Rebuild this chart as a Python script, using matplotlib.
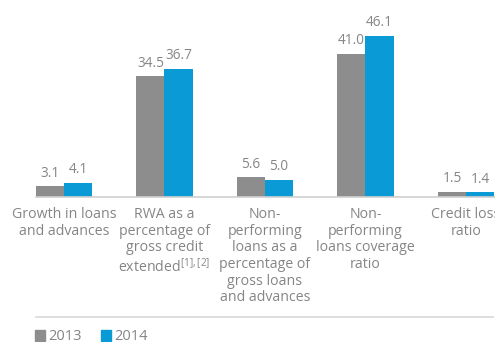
import matplotlib.pyplot as plt
import numpy as np

categories = ['Growth in loans\nand advances',
              'RWA as a\npercentage of\ngross credit\nextended$^{\\mathregular{[1], [2]}}$',
              'Non-\nperforming\nloans as a\npercentage of\ngross loans\nand advances',
              'Non-\nperforming\nloans coverage\nratio',
              'Credit loss\nratio']
vals_2013 = [3.1, 34.5, 5.6, 41.0, 1.5]
vals_2014 = [4.1, 36.7, 5.0, 46.1, 1.4]
years = ['2013', '2014']

gray = '#8d8d8d'
blue = '#0a9ad6'
txt = '#858585'

plt.rcParams['font.family'] = ['Open Sans', 'DejaVu Sans']

fig = plt.figure(figsize=(4.95, 3.42), dpi=100)
ax = fig.add_axes([0, 0.424, 1, 0.576])

x = np.arange(len(categories)) * 1.0025
w = 0.28
b1 = ax.bar(x - w / 2, vals_2013, w, color=gray)
b2 = ax.bar(x + w / 2, vals_2014, w, color=blue)

for bars, vals in ((b1, vals_2013), (b2, vals_2014)):
    for r, v in zip(bars, vals):
        ax.text(r.get_x() + r.get_width() / 2, v + 1.6, f'{v:.1f}',
                ha='center', va='bottom', fontsize=9.8, color=txt)

ax.set_xlim(-0.638, 4.3)
ax.set_ylim(0, 56.4)
ax.axis('off')
ax.plot([x[0] - w, 4.3], [0, 0], color='#d0d0d0', lw=1.2, clip_on=False)

for xi, lab in zip(x, categories):
    ax.text(xi, -2.9, lab, ha='center', va='top', fontsize=10.2,
            color=txt, linespacing=1.15)

# bottom rule and legend
fig.add_artist(plt.Line2D([36 / 495, 493 / 495], [1 - 317 / 342] * 2,
                          color='#d8d8d8', lw=1.2))
leg = fig.legend([plt.Rectangle((0, 0), 1, 1, color=gray),
                  plt.Rectangle((0, 0), 1, 1, color=blue)], years,
                 loc='center left', bbox_to_anchor=(0.055, 1 - 337 / 342),
                 ncol=2, frameon=False, fontsize=10.5, handlelength=0.7,
                 handleheight=0.7, handletextpad=0.25, columnspacing=1.3,
                 borderpad=0)
for t in leg.get_texts():
    t.set_color(txt)

fig.savefig('out.png', dpi=100, facecolor='white')
